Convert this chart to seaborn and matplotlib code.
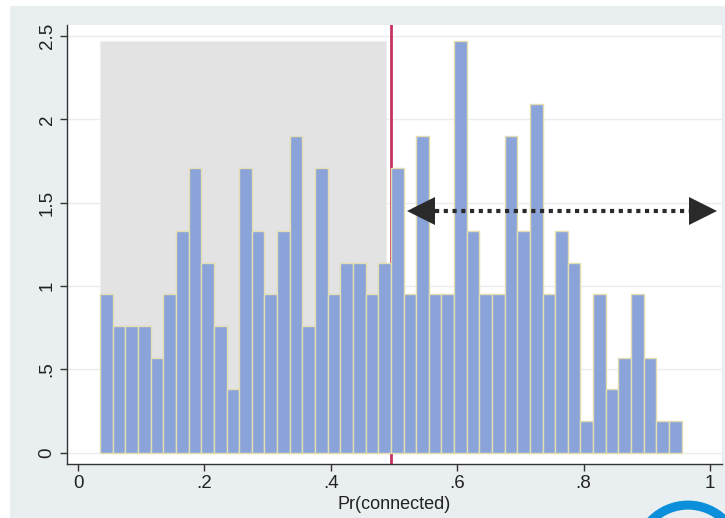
import numpy as np
import pandas as pd
import matplotlib
matplotlib.use("Agg")
import matplotlib.pyplot as plt
from matplotlib.patches import Rectangle, Circle
import seaborn as sns

# Histogram of Pr(connected): counts per bin of width 0.02
bin_start = 0.035
bin_width = 0.02
bin_counts = [5, 4, 4, 4, 3, 5, 7, 9, 6, 4,
              2, 9, 7, 5, 7, 10, 4, 9, 5, 6,
              6, 5, 6, 9, 5, 10, 5, 5, 13, 7,
              5, 5, 10, 7, 11, 5, 7, 6, 1, 5,
              2, 3, 5, 3, 1, 1]

x_ticks = [0, 0.2, 0.4, 0.6, 0.8, 1.0]
x_tick_labels = ["0", ".2", ".4", ".6", ".8", "1"]
y_ticks = [0, 0.5, 1.0, 1.5, 2.0, 2.5]
y_tick_labels = ["0", ".5", "1", "1.5", "2", "2.5"]
x_label = "Pr(connected)"

cutoff = 0.495          # vertical reference line
shade_right = 0.487     # right edge of the shaded region
arrow_y = 1.45
arrow_left_tip = 0.522
arrow_right_tip = 1.011

n_bins = len(bin_counts)
edges = [float(e) for e in bin_start + bin_width * np.arange(n_bins + 1)]
centers = [(a + b) / 2 for a, b in zip(edges[:-1], edges[1:])]
df = pd.DataFrame({"pr": centers, "n": bin_counts})

sns.set_style("white")
plt.rcParams["font.family"] = ["Liberation Sans", "DejaVu Sans"]

W, H, DPI = 725, 518, 100
fig = plt.figure(figsize=(W / DPI, H / DPI), dpi=DPI, facecolor="white")

# graph region background
fig.patches.append(Rectangle((10 / W, 0), 1 - 10 / W, 1 - 6 / H,
                             transform=fig.transFigure, facecolor="#e9eef1",
                             edgecolor="none", zorder=-5))

ax = fig.add_axes([66.7 / W, 1 - 464 / H, (722 - 66.7) / W, (464 - 25) / H])
ax.set_facecolor("white")

for y in y_ticks:
    ax.axhline(y, color="#ececec", lw=1.0, zorder=0.5)

# shaded region behind the bars
peak = max(bin_counts) / (sum(bin_counts) * bin_width)
ax.add_patch(Rectangle((bin_start, 0), shade_right - bin_start, peak,
                       facecolor="#e3e3e3", edgecolor="#eeeeee", lw=0.8,
                       zorder=1))

# reference line sits behind the bars
ax.axvline(cutoff, color="#c8325f", lw=2.0, zorder=1.5)

sns.histplot(data=df, x="pr", weights="n", binwidth=bin_width,
             binrange=(edges[0], edges[-1]), stat="density",
             color="#8aa3d8", edgecolor="#e2ddb2", linewidth=1.0, alpha=1.0,
             ax=ax, zorder=2)

# dotted double-headed arrow
head_px = 27
px_per_unit = 632
head = head_px / px_per_unit
ax.plot([arrow_left_tip + head, arrow_right_tip - head], [arrow_y, arrow_y],
        color="#2a2a2a", lw=3.0, linestyle=(0, (1, 1.1)),
        dash_capstyle="butt", zorder=4)
ax.plot([arrow_left_tip + head / 2], [arrow_y], marker="<", markersize=19.5,
        color="#2a2a2a", markeredgewidth=0, zorder=5, clip_on=False)
ax.plot([arrow_right_tip - head / 2], [arrow_y], marker=">", markersize=19.5,
        color="#2a2a2a", markeredgewidth=0, zorder=5, clip_on=False)

ax.set_xlim(-0.018, 1.019)
ax.set_ylim(-0.068, 2.567)

ax.set_xticks(x_ticks)
ax.set_xticklabels(x_tick_labels)
ax.set_yticks(y_ticks)
ax.set_yticklabels(y_tick_labels, rotation=90, va="center")
ax.tick_params(axis="both", direction="out", length=5, width=1.0,
               color="#333333", labelsize=13.5, labelcolor="#222222", pad=3,
               bottom=True, left=True)
ax.set_xlabel(x_label, fontsize=13, color="#222222", labelpad=3)
ax.set_ylabel("")

for side in ["top", "right"]:
    ax.spines[side].set_visible(False)
for side in ["left", "bottom"]:
    ax.spines[side].set_color("#333333")
    ax.spines[side].set_linewidth(1.0)

# partial blue ring in the lower-right corner
fig.patches.append(Circle((688 / DPI, (H - 556.6) / DPI), 51.5 / DPI,
                          transform=fig.dpi_scale_trans, facecolor="none",
                          edgecolor="#0b8fdb", lw=6.5, zorder=10))

fig.savefig("out.png", dpi=DPI, facecolor="white")
